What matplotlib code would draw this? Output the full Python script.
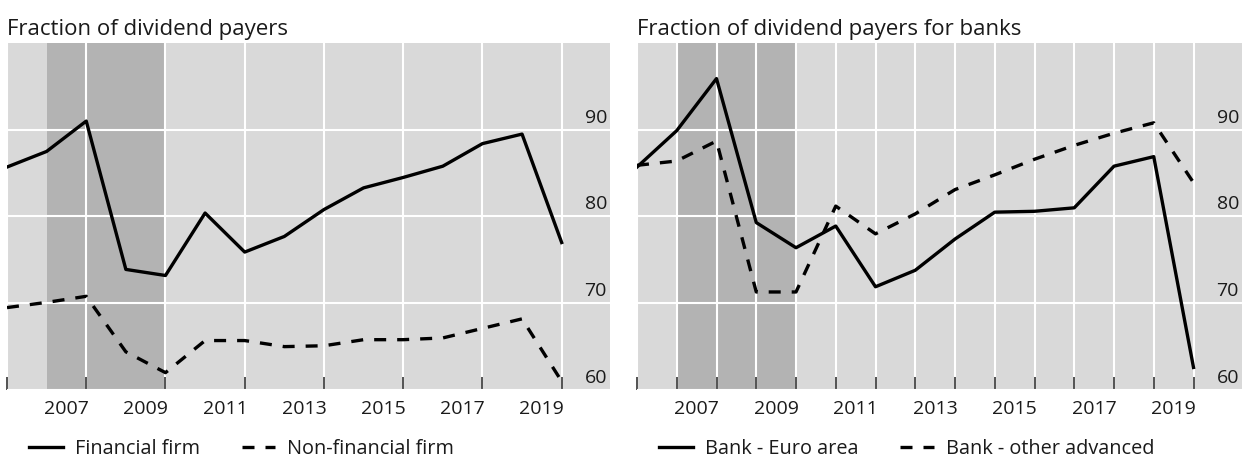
import matplotlib.pyplot as plt
import matplotlib.transforms as mtransforms
import numpy as np

# data (percent of firms paying dividends)
years = np.arange(2006, 2021)
financial = [85.7, 87.5, 91.0, 73.9, 73.2, 80.4, 75.9, 77.7, 80.8, 83.3, 84.5, 85.8, 88.4, 89.5, 77.0]
non_financial = [69.5, 70.1, 70.8, 64.4, 62.0, 65.7, 65.7, 65.0, 65.1, 65.8, 65.8, 66.0, 67.1, 68.2, 61.0]
bank_euro = [85.7, 89.9, 95.9, 79.3, 76.4, 78.9, 71.9, 73.8, 77.4, 80.5, 80.6, 81.0, 85.8, 86.9, 62.6]
bank_other = [85.9, 86.4, 88.7, 71.3, 71.3, 81.2, 78.0, 80.3, 83.1, 84.8, 86.6, 88.2, 89.6, 90.8, 83.9]

label_years = [2007, 2009, 2011, 2013, 2015, 2017, 2019]
y_labels = [60, 70, 80, 90]
crisis = (2007, 2010)

plt.rcParams['font.family'] = ['Open Sans', 'DejaVu Sans']
text_col = '#1a1a1a'
dash = (0, (3.6, 3.3))

fig = plt.figure(figsize=(12.44, 4.59), dpi=100)
ax1 = fig.add_axes([7 / 1244, 69 / 459, 603 / 1244, 347 / 459])
ax2 = fig.add_axes([637 / 1244, 69 / 459, 605 / 1244, 347 / 459])


def style(ax, title, tick_step):
    ax.set_facecolor('#d9d9d9')
    for s in ax.spines.values():
        s.set_visible(False)
    ax.axvspan(crisis[0], crisis[1], color='#b3b3b3', lw=0, zorder=0.2)
    ax.set_xlim(2006, 2021.22)
    ax.set_ylim(60, 100)
    ax.set_axisbelow(True)

    # ticks on year boundaries, labels centred in the year
    ax.set_xticks(years[::tick_step])
    ax.set_xticklabels([])
    ax.set_xticks([y + 0.5 for y in label_years], minor=True)
    ax.set_xticklabels([str(y) for y in label_years], minor=True)
    ax.tick_params(axis='x', which='major', direction='in', length=9.5,
                   width=1.3, color='#444444')
    ax.tick_params(axis='x', which='minor', length=0, pad=7,
                   labelsize=14, labelcolor=text_col)
    ax.set_yticks(y_labels)
    ax.tick_params(axis='y', length=0, labelleft=False)
    ax.grid(True, which='major', color='white', lw=1.5)

    # y values sit just above their gridline, inside the panel
    trans = mtransforms.blended_transform_factory(ax.transAxes, ax.transData)
    trans = trans + mtransforms.ScaledTranslation(0, 0.12, fig.dpi_scale_trans)
    for v in y_labels:
        ax.text(0.995, v, str(v), transform=trans, ha='right', va='center',
                fontsize=14, color=text_col)

    ax.set_title(title, loc='left', fontsize=16, pad=6, color=text_col)


style(ax1, 'Fraction of dividend payers', 2)
style(ax2, 'Fraction of dividend payers for banks', 1)

ax1.plot(years, financial, color='black', lw=2.4, label='Financial firm')
ax1.plot(years, non_financial, color='black', lw=2.4, linestyle=dash, label='Non-financial firm')
ax2.plot(years, bank_euro, color='black', lw=2.4, label='Bank - Euro area')
ax2.plot(years, bank_other, color='black', lw=2.4, linestyle=dash, label='Bank - other advanced')

for ax in (ax1, ax2):
    ax.legend(loc='center left', bbox_to_anchor=(0.037, -0.17), ncol=2,
              frameon=False, fontsize=14.3, handlelength=1.7, handletextpad=0.6,
              columnspacing=2.1, borderpad=0, borderaxespad=0, labelcolor=text_col)

fig.savefig('out.png', dpi=100)
